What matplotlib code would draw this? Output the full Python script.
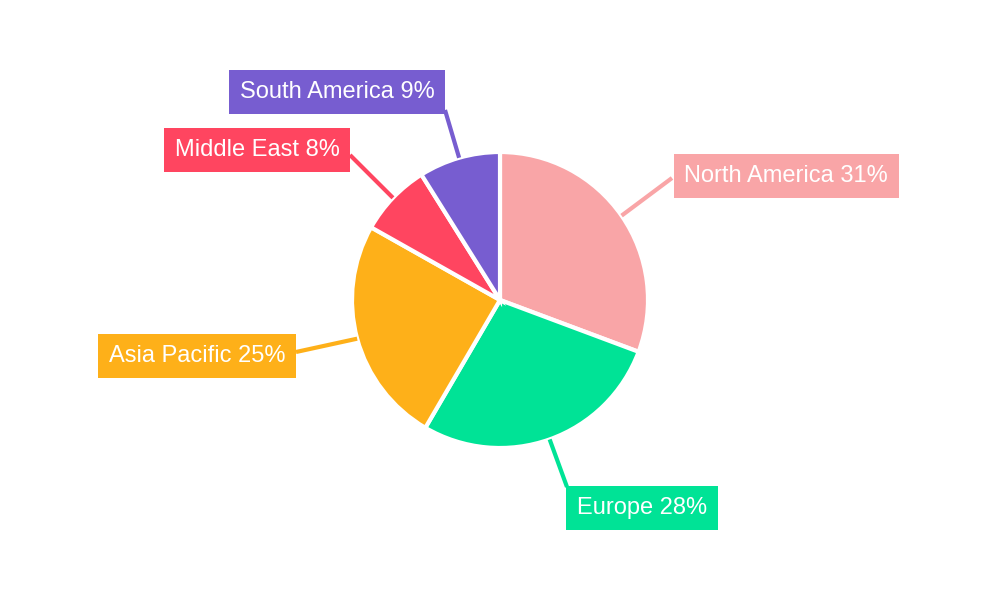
import matplotlib
matplotlib.use("Agg")
import matplotlib.pyplot as plt
import numpy as np

regions = ["North America", "Europe", "Asia Pacific", "Middle East", "South America"]
shares = [31, 28, 25, 8, 9]
colors = ["#F9A5A7", "#00E396", "#FEB019", "#FF4560", "#775DD0"]

# label box centers and connector end points (pixel coords, y down)
label_pos = [(786, 176), (642, 508), (197, 356), (257, 150), (337, 92)]
line_end = [(672, 178), (567, 487), (296, 352), (350, 155), (445, 110)]

fig = plt.figure(figsize=(10, 6), dpi=100)
ax = fig.add_axes([0, 0, 1, 1])

cx, cy, R = 500, 300, 148
ax.pie(shares, colors=colors, startangle=90, counterclock=False, center=(cx, cy),
       radius=R, wedgeprops=dict(edgecolor="white", linewidth=3), frame=True)
ax.set_xlim(0, 1000)
ax.set_ylim(0, 600)
ax.set_aspect("equal")
ax.axis("off")

total = sum(shares)
start = 90.0
for name, v, c, lp, le in zip(regions, shares, colors, label_pos, line_end):
    ang = np.deg2rad(start - 360 * v / total / 2)
    start -= 360 * v / total
    sx, sy = cx + R * np.cos(ang), cy + R * np.sin(ang)
    ax.plot([sx, le[0]], [sy, 600 - le[1]], color=c, lw=3, solid_capstyle="butt", zorder=1)
    pct = round(100 * v / total)
    ax.text(lp[0], 600 - lp[1], f"{name} {pct}%", color="white", fontsize=17,
            family="Liberation Sans", ha="center", va="center",
            bbox=dict(boxstyle="square,pad=0.45", fc=c, ec="none"), zorder=3)

fig.savefig("out.png", dpi=100)
